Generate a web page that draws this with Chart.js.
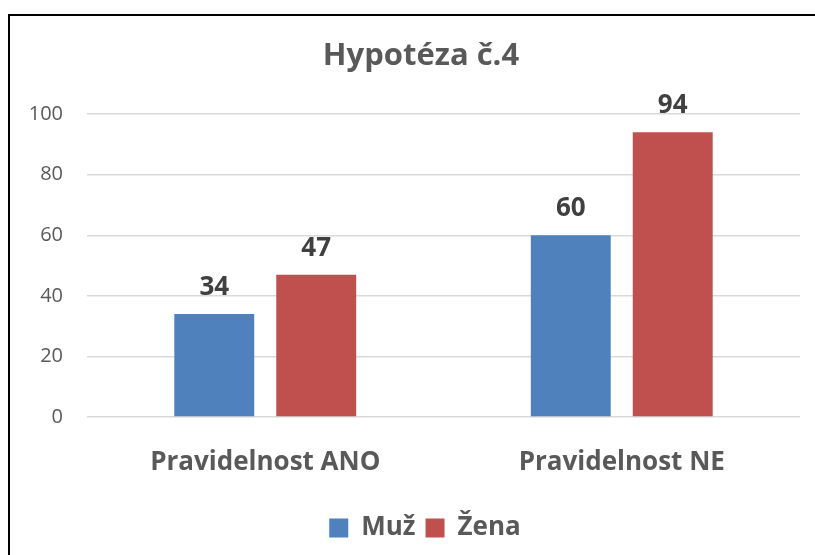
<!DOCTYPE html>
<html><head><meta charset="utf-8">
<script src="https://cdn.jsdelivr.net/npm/chart.js@4"></script>
<style>
html,body{margin:0;padding:0;background:#fff;}
#wrap{position:relative;width:815px;height:555px;overflow:hidden;}
#frame{position:absolute;left:8px;top:14px;width:900px;height:700px;border:2px solid #000;box-sizing:border-box;}
canvas{position:absolute;left:0;top:0;}
</style></head>
<body><div id="wrap"><div id="frame"></div><canvas id="c" width="815" height="555"></canvas></div>
<script>
const categories = ["Pravidelnost ANO", "Pravidelnost NE"];
const seriesNames = ["Muž", "Žena"];
const muz = [34, 60];
const zena = [47, 94];
const yTicks = [0, 20, 40, 60, 80, 100];
const titleText = "Hypotéza č.4";
const FONT = "'Open Sans', 'Liberation Sans', sans-serif";

const labelPlugin = {
  id: 'valLabels',
  afterLayout(chart) {
    if (chart.titleBlock) { chart.titleBlock.left += 42; }
    if (chart.legend) { chart.legend.left += 50; }
  },
  afterDatasetsDraw(chart) {
    const ctx = chart.ctx;
    ctx.save();
    ctx.font = "bold 26px " + FONT;
    ctx.fillStyle = "#404040";
    ctx.textAlign = "center";
    ctx.textBaseline = "alphabetic";
    chart.data.datasets.forEach((ds, i) => {
      chart.getDatasetMeta(i).data.forEach((bar, j) => {
        ctx.fillText(String(ds.data[j]), bar.x, bar.y - 19);
      });
    });
    ctx.restore();
  }
};

new Chart(document.getElementById('c'), {
  type: 'bar',
  data: {
    labels: categories,
    datasets: [
      { label: seriesNames[0], data: muz, backgroundColor: '#4F81BD', categoryPercentage: 0.572, barPercentage: 0.784 },
      { label: seriesNames[1], data: zena, backgroundColor: '#C0504D', categoryPercentage: 0.572, barPercentage: 0.784 }
    ]
  },
  options: {
    responsive: false,
    animation: false,
    layout: { padding: { left: 0, right: 15, top: 0, bottom: 4 } },
    plugins: {
      title: { display: true, text: titleText, color: '#595959', font: { family: FONT, size: 31, weight: 'bold' }, padding: { top: 38, bottom: 39 } },
      legend: {
        position: 'bottom',
        labels: { color: '#595959', font: { family: FONT, size: 26, weight: 'bold' }, boxWidth: 19, boxHeight: 19, padding: 10 }
      },
      tooltip: { enabled: false }
    },
    scales: {
      x: {
        afterFit(axis) { axis.height = 88; },
        grid: { display: false },
        border: { display: false },
        ticks: { color: '#595959', font: { family: FONT, size: 26, weight: 'bold' }, padding: 22 }
      },
      y: {
        min: 0, max: 100,
        afterFit(axis) { axis.width = 87; },
        afterBuildTicks(axis) { axis.ticks = yTicks.map(v => ({ value: v })); },
        grid: { color: '#d9d9d9', lineWidth: 1.5, drawTicks: false },
        border: { display: false },
        ticks: { color: '#595959', font: { family: FONT, size: 20 }, padding: 24 }
      }
    }
  },
  plugins: [labelPlugin]
});
</script></body></html>
